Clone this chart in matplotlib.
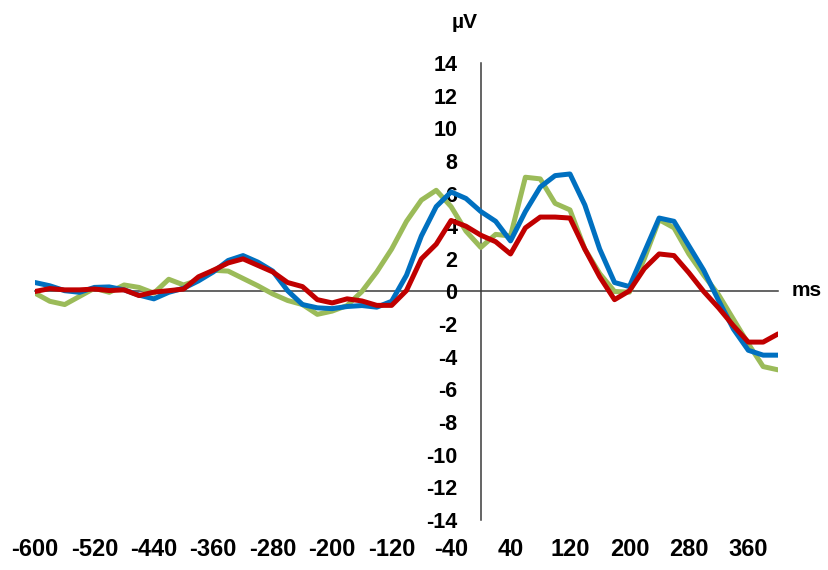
import matplotlib
matplotlib.use("Agg")
import matplotlib.pyplot as plt

plt.rcParams['font.family'] = ['Liberation Sans', 'DejaVu Sans']

# time in ms, one sample every 20 ms
times = list(range(-600, 401, 20))

green = [-0.1, -0.6, -0.8, -0.3, 0.2, -0.05, 0.4, 0.25, -0.1, 0.75,
         0.4, 0.7, 1.3, 1.25, 0.8, 0.35, -0.15, -0.55, -0.8, -1.4,
         -1.2, -0.86, 0.0, 1.2, 2.6, 4.3, 5.6, 6.2, 5.2, 3.7,
         2.7, 3.5, 3.4, 7.0, 6.9, 5.4, 5.0, 2.6, 1.1, 0.0,
         -0.04, 2.0, 4.4, 3.9, 2.3, 1.0, -0.2, -1.7, -3.2, -4.6,
         -4.8]

blue = [0.55, 0.35, 0.05, -0.05, 0.25, 0.28, 0.1, -0.22, -0.45, -0.05,
        0.2, 0.65, 1.2, 1.9, 2.2, 1.8, 1.25, 0.05, -0.8, -1.0,
        -1.05, -0.92, -0.86, -0.96, -0.6, 1.0, 3.4, 5.2, 6.1, 5.7,
        4.9, 4.3, 3.1, 4.9, 6.4, 7.1, 7.2, 5.3, 2.6, 0.55,
        0.3, 2.4, 4.5, 4.3, 2.8, 1.3, -0.55, -2.3, -3.6, -3.9,
        -3.9]

red = [0.0, 0.18, 0.1, 0.1, 0.15, 0.06, 0.1, -0.25, -0.04, 0.05,
       0.15, 0.9, 1.3, 1.75, 2.0, 1.6, 1.2, 0.55, 0.3, -0.5,
       -0.7, -0.45, -0.58, -0.85, -0.85, 0.06, 2.0, 2.9, 4.35, 4.0,
       3.45, 3.05, 2.3, 3.9, 4.56, 4.56, 4.5, 2.6, 0.9, -0.5,
       0.04, 1.4, 2.3, 2.2, 1.15, 0.0, -1.0, -2.1, -3.1, -3.1,
       -2.6]

xticks = list(range(-600, 361, 80))
yticks = list(range(-14, 15, 2))


def drawWave(ax, x, y, color):
    ax.plot(x, y, color=color, lw=3.6, solid_capstyle='round',
            solid_joinstyle='round')


fig = plt.figure(figsize=(8.29, 5.70), dpi=100)
ax = fig.add_axes([0.0422, 0.0877, 0.8963, 0.8018])

drawWave(ax, times, green, '#9BBB59')
drawWave(ax, times, blue, '#0070C0')
drawWave(ax, times, red, '#C00000')

ax.set_xlim(-600, 400)
ax.set_ylim(-14, 14)

for s in ['top', 'right']:
    ax.spines[s].set_visible(False)
ax.spines['left'].set_position(('data', 0))
ax.spines['bottom'].set_position(('data', 0))
for s in ['left', 'bottom']:
    ax.spines[s].set_color('#3a3a3a')
    ax.spines[s].set_linewidth(1.1)
    ax.spines[s].set_zorder(0.5)

ax.set_yticks(yticks)
ax.set_yticklabels([str(v) for v in yticks], fontweight='bold')
ax.tick_params(axis='y', length=0, pad=17, labelsize=15.5)
ax.tick_params(axis='x', length=0, labelbottom=False)

# labels of the time axis sit at the bottom of the frame
sec = ax.secondary_xaxis(0)
sec.set_xticks(xticks)
sec.set_xticklabels([str(v) for v in xticks], fontweight='bold')
sec.spines['bottom'].set_visible(False)
sec.tick_params(length=0, pad=13, labelsize=17)

fig.text(465 / 829, 1 - 23 / 570, 'µV', fontsize=15, fontweight='bold',
         ha='center', va='center')
fig.text(807 / 829, 1 - 290 / 570, 'ms', fontsize=15, fontweight='bold',
         ha='center', va='center')

fig.savefig('out.png', dpi=100)
